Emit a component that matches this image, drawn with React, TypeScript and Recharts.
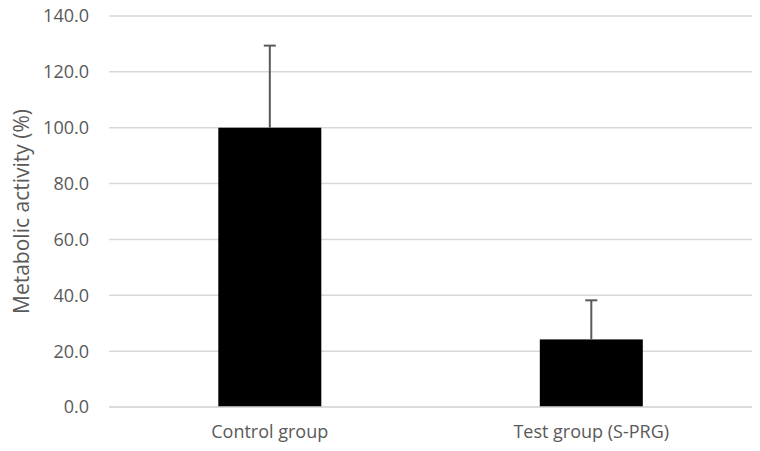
import React from 'react';
import { BarChart, Bar, XAxis, YAxis, CartesianGrid, Label } from 'recharts';

const categories = ['Control group', 'Test group (S-PRG)'];
const values = [100.0, 24.2];
const errors = [29.4, 14.0];
const yTicks = [0, 20, 40, 60, 80, 100, 120, 140];

const data = categories.map((name, i) => ({ name, value: values[i], err: errors[i] }));

const TEXT = '#595959';
const FONT = '"Open Sans", sans-serif';

const BarWithError = (props: any) => {
  const { x, y, width, height, payload } = props;
  const pxPerUnit = height / payload.value;
  const topY = y - payload.err * pxPerUnit;
  const cx = x + width / 2;
  return (
    <g>
      <rect x={x} y={y} width={width} height={height} fill="#000000" />
      <line x1={cx} y1={y} x2={cx} y2={topY} stroke={TEXT} strokeWidth={2} />
      <line x1={cx - 6} y1={topY} x2={cx + 6} y2={topY} stroke={TEXT} strokeWidth={2} />
    </g>
  );
};

export default function App() {
  return (
    <div style={{ position: 'absolute', left: 0, top: 0, width: 760, height: 451, background: '#fff' }}>
      <BarChart
        width={760}
        height={451}
        data={data}
        margin={{ top: 16, right: 8, bottom: 14, left: 0 }}
        barCategoryGap="34%"
      >
        <CartesianGrid vertical={false} stroke="#d9d9d9" strokeWidth={1.5} />
        <XAxis
          dataKey="name"
          height={30}
          axisLine={{ stroke: '#d9d9d9', strokeWidth: 1.5 }}
          tickLine={false}
          tickMargin={12}
          tick={{ fill: TEXT, fontSize: 18, fontFamily: FONT }}
        />
        <YAxis
          domain={[0, 140]}
          ticks={yTicks}
          interval={0}
          axisLine={false}
          tickLine={false}
          width={109}
          tickSize={6}
          tickMargin={14}
          tickFormatter={(v: number) => v.toFixed(1)}
          tick={{ fill: TEXT, fontSize: 18, fontFamily: FONT }}
        >
          <Label
            value="Metabolic activity (%)"
            angle={-90}
            position="insideLeft"
            offset={22}
            fill={TEXT}
            fontSize={21}
            fontFamily={FONT}
            style={{ textAnchor: 'middle', fontSize: 21, fontFamily: FONT, fill: TEXT }}
          />
        </YAxis>
        <Bar dataKey="value" shape={<BarWithError />} isAnimationActive={false} />
      </BarChart>
    </div>
  );
}
